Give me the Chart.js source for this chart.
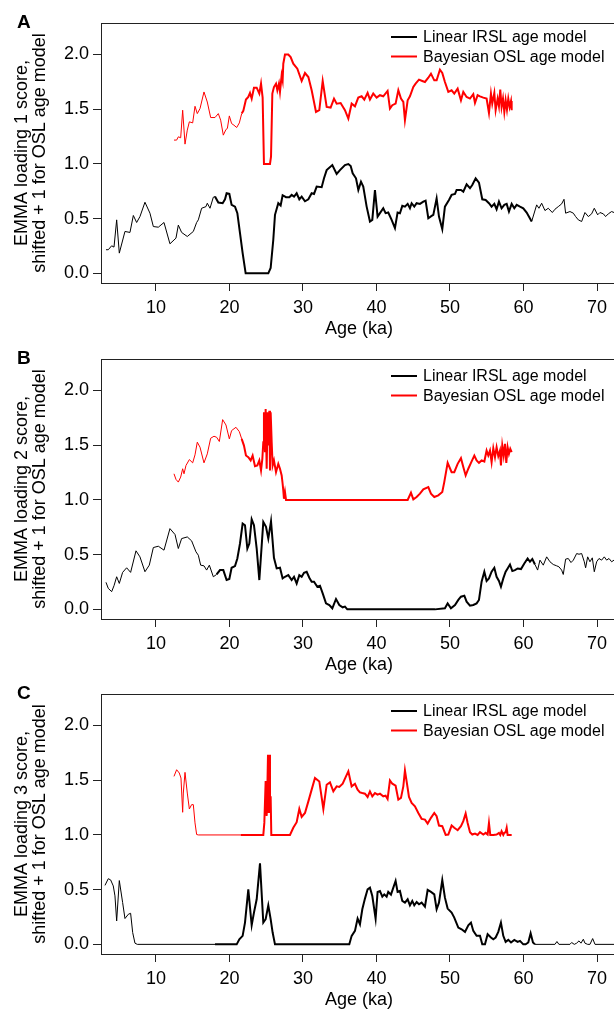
<!DOCTYPE html>
<html>
<head>
<meta charset="utf-8">
<script src="https://cdn.jsdelivr.net/npm/chart.js@4.4.1/dist/chart.umd.min.js"></script>
<style>
  html, body { margin: 0; padding: 0; background: #fff; }
  #wrap { position: relative; width: 614px; height: 1010px; overflow: hidden; }
  #wrap canvas { position: absolute; left: 0; }
</style>
</head>
<body>
<div id="wrap">
  <canvas id="panelA" width="630" height="340" style="top:0px"></canvas>
  <canvas id="panelB" width="630" height="340" style="top:336px"></canvas>
  <canvas id="panelC" width="630" height="340" style="top:671px"></canvas>
</div>
<script>
// Оси
const xTicks = [10, 20, 30, 40, 50, 60, 70];
const yTicks = [0, 0.5, 1, 1.5, 2];
const xRange = [2.52, 72.72];
const yRange = [-0.088, 2.288];
const seriesLabels = ['Linear IRSL age model', 'Bayesian OSL age model'];

// Панель A (loading 1)
const ageA_irsl = [3.20,3.51,3.97,4.29,4.65,5.01,5.78,6.46,6.92,7.37,
  7.82,8.50,9.18,9.64,10.32,11.09,11.90,12.72,13.04,13.49,
  14.26,15.08,15.53,15.76,16.21,16.80,16.98,17.35,17.80,18.03,
  18.48,19.07,19.39,19.61,19.98,20.29,20.75,21.07,21.43,21.79,
  22.20,25.28,25.60,25.96,26.19,26.64,26.96,27.23,27.69,28.14,
  28.46,28.78,29.14,29.50,29.82,30.27,30.73,31.18,31.50,31.86,
  32.54,32.86,33.22,33.99,34.58,35.03,35.71,36.17,36.49,36.76,
  37.21,37.53,37.89,38.20,38.66,39.11,39.43,39.79,40.15,40.47,
  40.92,41.24,41.60,42.06,42.51,42.87,43.19,43.51,43.87,44.24,
  44.55,44.78,45.14,45.46,45.91,46.37,46.68,47.05,47.50,47.73,
  48.18,48.50,48.95,49.31,49.86,50.22,50.68,50.90,51.49,51.81,
  52.26,52.72,53.03,53.49,53.94,54.39,54.85,55.30,55.66,56.03,
  56.34,56.66,57.02,57.39,57.71,58.02,58.39,58.75,59.07,59.52,
  59.97,60.43,61.11,61.79,62.10,62.47,62.92,63.37,63.92,64.28,
  64.73,65.19,65.51,65.73,66.32,66.78,67.09,67.46,67.91,68.36,
  68.82,69.27,69.63,70.09,70.40,70.86,71.17,71.54,71.99,72.31];
const scoreA_irsl = [0.216,0.216,0.252,0.240,0.489,0.185,0.383,0.374,0.529,0.465,
  0.519,0.650,0.550,0.428,0.422,0.465,0.270,0.322,0.441,0.374,
  0.337,0.383,0.465,0.489,0.595,0.610,0.641,0.595,0.696,0.702,
  0.647,0.641,0.677,0.732,0.726,0.626,0.610,0.550,0.368,0.185,
  0,0,0.049,0.307,0.535,0.641,0.620,0.714,0.696,0.696,
  0.717,0.702,0.732,0.677,0.702,0.659,0.677,0.732,0.726,0.793,
  0.787,0.869,0.944,0.990,0.908,0.944,0.990,0.999,0.981,0.914,
  0.869,0.762,0.838,0.793,0.610,0.474,0.489,0.762,0.519,0.550,
  0.595,0.550,0.556,0.489,0.414,0.556,0.550,0.617,0.610,0.635,
  0.595,0.641,0.610,0.641,0.635,0.656,0.665,0.504,0.525,0.535,
  0.686,0.519,0.404,0.610,0.671,0.717,0.726,0.762,0.762,0.747,
  0.814,0.778,0.808,0.869,0.829,0.677,0.671,0.641,0.610,0.635,
  0.586,0.656,0.595,0.626,0.635,0.565,0.635,0.595,0.626,0.610,
  0.595,0.556,0.474,0.626,0.595,0.641,0.574,0.595,0.556,0.586,
  0.610,0.635,0.677,0.550,0.565,0.550,0.519,0.489,0.474,0.556,
  0.519,0.544,0.595,0.535,0.556,0.544,0.519,0.544,0.565,0.556];
const ageA_osl = [12.45,12.81,13.04,13.36,13.63,13.95,14.26,14.54,14.99,15.31,
  15.62,15.99,16.53,16.98,17.44,18.03,18.48,18.80,19.16,19.52,
  19.71,19.98,20.29,20.61,20.98,21.34,21.66,21.88,22.24,22.56,
  22.79,23.02,23.33,23.70,24.06,24.29,24.51,24.69,25.51,25.65,
  25.83,26.05,26.33,26.51,26.73,26.87,27.10,27.23,27.32,27.55,
  28.00,28.32,28.68,29.23,29.82,30.27,30.73,31.18,31.77,32.22,
  32.68,33.22,33.76,34.22,34.58,35.12,35.71,36.17,36.62,37.07,
  37.52,37.98,38.34,38.79,39.11,39.56,40.02,40.47,40.92,41.51,
  41.83,42.15,42.60,42.97,43.33,43.65,43.87,44.24,44.55,45.01,
  45.32,45.78,46.23,46.59,47.05,47.41,47.86,48.18,48.63,48.95,
  49.31,49.77,50.22,50.58,51.04,51.49,51.81,52.26,52.72,53.17,
  53.40,53.76,54.08,54.53,54.98,55.30,55.57,55.75,56.03,56.21,
  56.48,56.66,56.84,57.02,57.21,57.39,57.57,57.75,57.93,58.11,
  58.30,58.39];
const scoreA_osl = [1.218,1.218,1.248,1.239,1.491,1.181,1.309,1.385,1.375,1.527,
  1.460,1.506,1.658,1.566,1.424,1.424,1.460,1.400,1.263,1.315,
  1.324,1.439,1.369,1.354,1.333,1.375,1.460,1.485,1.588,1.612,
  1.649,1.597,1.697,1.697,1.643,1.734,1.606,1.0,1.0,1.066,
  1.643,1.703,1.734,1.673,1.734,1.658,1.810,1.764,1.916,2.0,
  2.0,1.976,1.916,1.870,1.758,1.831,1.794,1.673,1.475,1.491,
  1.758,1.521,1.515,1.597,1.551,1.557,1.491,1.415,1.551,1.527,
  1.606,1.618,1.588,1.649,1.588,1.643,1.606,1.628,1.618,1.667,
  1.506,1.537,1.551,1.673,1.597,1.567,1.400,1.582,1.618,1.703,
  1.734,1.770,1.758,1.749,1.788,1.825,1.764,1.764,1.861,1.831,
  1.749,1.658,1.673,1.643,1.688,1.582,1.658,1.612,1.597,1.637,
  1.558,1.628,1.618,1.606,1.597,1.466,1.643,1.551,1.649,1.491,
  1.597,1.527,1.679,1.521,1.597,1.475,1.582,1.497,1.597,1.521,
  1.576,1.491];

// Панель B (loading 2)
const ageB_irsl = [3.20,3.51,3.97,4.29,4.65,5.01,5.46,6.01,6.55,7.28,
  7.82,8.50,9.09,9.64,10.32,11.09,11.90,12.59,13.04,13.49,
  14.26,14.85,15.44,15.76,16.08,16.53,16.89,17.26,17.80,18.25,
  18.71,19.16,19.61,19.98,20.29,20.75,21.07,21.43,21.79,22.11,
  22.43,22.70,23.02,23.33,23.70,24.06,24.60,24.97,25.28,25.65,
  26.05,26.42,26.87,27.23,27.55,28.00,28.46,28.78,29.14,29.50,
  29.82,30.14,30.50,30.86,31.18,31.50,31.95,32.31,32.68,33.13,
  33.58,33.99,34.49,34.94,35.40,35.71,36.03,47.95,49.31,49.68,
  50.13,50.68,51.13,51.49,51.95,52.26,52.72,53.17,53.62,53.94,
  54.30,54.67,54.98,55.30,55.66,56.03,56.34,56.66,56.93,57.25,
  57.57,57.84,58.16,58.48,58.84,59.20,59.66,60.11,60.56,60.88,
  61.20,61.56,61.92,62.24,62.69,63.15,63.60,64.05,64.51,64.82,
  65.19,65.41,65.73,66.09,66.46,66.78,67.23,67.55,67.91,68.27,
  68.45,68.73,69.04,69.36,69.63,69.95,70.27,70.63,70.99,71.31,
  71.63,71.99,72.31];
const scoreB_irsl = [0.247,0.192,0.162,0.216,0.298,0.237,0.338,0.380,0.338,0.535,
  0.480,0.344,0.404,0.565,0.577,0.541,0.738,0.684,0.556,0.647,
  0.662,0.626,0.526,0.495,0.404,0.398,0.359,0.404,0.298,0.319,
  0.359,0.359,0.268,0.277,0.380,0.395,0.465,0.602,0.784,0.769,
  0.556,0.602,0.823,0.769,0.556,0.268,0.799,0.754,0.647,0.805,
  0.471,0.374,0.380,0.283,0.298,0.313,0.268,0.298,0.237,0.313,
  0.298,0.335,0.344,0.289,0.253,0.253,0.207,0.216,0.146,0.055,
  0.040,0.010,0.095,0.040,0.019,0.025,0,0,0.010,0.055,
  0.010,0.040,0.086,0.116,0.125,0.070,0.034,0.040,0.055,0.086,
  0.253,0.344,0.259,0.283,0.344,0.380,0.298,0.259,0.207,0.283,
  0.344,0.374,0.410,0.350,0.359,0.374,0.368,0.420,0.465,0.435,
  0.459,0.410,0.359,0.450,0.404,0.480,0.435,0.410,0.398,0.389,
  0.359,0.319,0.459,0.465,0.428,0.450,0.510,0.504,0.510,0.435,
  0.380,0.480,0.435,0.471,0.344,0.435,0.465,0.450,0.480,0.450,
  0.465,0.435,0.450];
const ageB_osl = [12.45,12.72,13.04,13.36,13.63,13.81,14.08,14.54,14.99,15.31,
  15.62,15.99,16.53,16.98,17.44,17.89,18.25,18.62,19.07,19.52,
  19.98,20.29,20.88,21.34,21.66,21.97,22.24,22.56,22.88,23.15,
  23.47,23.79,24.06,24.29,24.47,24.60,24.69,24.83,24.92,25.06,
  25.19,25.33,25.42,25.51,25.60,25.74,25.87,26.05,26.33,26.64,
  26.87,27.10,27.23,27.32,27.41,27.55,27.69,44.24,44.69,45.01,
  45.46,45.91,46.37,47.05,47.41,47.86,48.41,48.95,49.22,49.68,
  50.22,50.58,51.04,51.49,51.81,52.13,52.49,52.85,53.31,53.62,
  53.94,54.30,54.67,54.98,55.21,55.44,55.66,55.89,56.12,56.34,
  56.57,56.80,56.93,57.11,57.30,57.48,57.66,57.84,58.02,58.20,
  58.39];
const scoreB_osl = [1.239,1.188,1.163,1.209,1.285,1.239,1.315,1.369,1.339,1.412,
  1.528,1.482,1.339,1.421,1.564,1.582,1.573,1.534,1.734,1.685,
  1.558,1.634,1.664,1.624,1.558,1.497,1.406,1.391,1.361,1.406,
  1.309,1.315,1.361,1.270,1.376,1.528,1.801,1.436,1.832,1.285,
  1.801,1.497,1.816,1.270,1.801,1.528,1.315,1.361,1.254,1.330,
  1.285,1.224,1.148,1.087,1.011,1.072,1.0,1.0,1.066,1.005,
  1.027,1.057,1.097,1.118,1.057,1.027,1.042,1.072,1.163,1.339,
  1.254,1.254,1.330,1.382,1.300,1.224,1.285,1.339,1.406,1.361,
  1.339,1.361,1.351,1.451,1.406,1.451,1.345,1.473,1.391,1.482,
  1.400,1.451,1.315,1.497,1.406,1.512,1.339,1.482,1.421,1.467,
  1.436];

// Панель C (loading 3)
const ageC_irsl = [3.06,3.51,3.83,4.19,4.42,4.65,5.01,5.46,5.78,6.24,
  6.55,6.83,7.14,7.46,18.03,20.98,21.34,21.79,22.11,22.56,
  23.02,23.33,23.70,24.15,24.60,24.92,25.28,25.60,25.87,26.19,
  36.30,36.62,37.07,37.43,37.75,38.07,38.43,38.79,39.11,39.43,
  39.88,40.15,40.47,40.79,41.06,41.38,41.60,41.97,42.29,42.60,
  42.87,43.19,43.51,43.87,44.24,44.55,44.87,45.14,45.46,45.78,
  46.14,46.59,46.96,47.41,47.86,48.18,48.50,48.95,49.31,49.68,
  50.22,50.58,51.13,51.58,52.04,52.49,52.85,53.17,53.62,54.08,
  54.39,54.76,55.12,55.57,55.89,56.21,56.57,56.93,57.25,57.57,
  57.93,58.30,58.75,59.20,59.52,59.97,60.29,60.65,60.97,61.29,
  61.56,64.28,64.55,64.82,66.32,66.55,66.91,67.23,67.55,67.82,
  68.14,68.36,68.73,69.04,69.41,69.73,72.31];
const scoreC_irsl = [0.539,0.600,0.589,0.534,0.443,0.214,0.583,0.383,0.236,0.275,
  0.284,0.108,0.011,0,0,0,0.047,0.078,0.199,0.503,
  0.175,0.290,0.412,0.740,0.199,0.230,0.357,0.230,0.108,0,
  0,0.078,0.123,0.236,0.184,0.321,0.418,0.503,0.518,0.442,
  0.236,0.479,0.488,0.436,0.457,0.436,0.479,0.454,0.518,0.579,
  0.479,0.488,0.397,0.381,0.412,0.357,0.397,0.357,0.387,0.366,
  0.381,0.345,0.497,0.479,0.457,0.321,0.381,0.588,0.427,0.327,
  0.290,0.245,0.154,0.138,0.114,0.175,0.199,0.123,0.078,0.078,
  0,0,0.093,0.063,0.047,0.063,0.114,0.199,0.078,0.023,
  0.041,0.017,0.041,0.023,0.032,0,0,0.017,0.102,0.017,
  0,0,0.026,0,0,0.017,0,0.011,0.032,0.011,
  0.047,0.011,0,0,0.053,0,0];
const ageC_osl = [12.45,12.81,13.17,13.40,13.63,13.72,13.95,14.26,14.54,14.85,
  15.08,15.31,15.53,15.76,21.52,24.60,24.74,24.92,25.06,25.15,
  25.24,25.33,25.42,25.51,25.60,25.69,28.23,28.68,29.14,29.50,
  29.82,30.27,30.73,31.18,31.63,32.22,32.77,33.22,33.67,34.13,
  34.58,34.94,35.40,35.85,36.17,36.62,37.07,37.43,37.75,38.07,
  38.43,38.79,39.11,39.43,39.79,40.15,40.47,40.92,41.24,41.51,
  41.83,42.15,42.60,42.97,43.33,43.65,43.87,44.10,44.42,44.78,
  45.23,45.69,46.14,46.59,46.96,47.41,47.86,48.18,48.50,48.95,
  49.41,49.77,50.22,50.58,51.04,51.49,51.81,52.13,52.40,52.72,
  53.03,53.40,53.76,54.08,54.53,54.85,55.12,55.30,55.48,55.89,
  56.34,56.66,56.84,57.02,57.25,57.39,57.57,57.71,57.84,58.39];
const scoreC_osl = [1.535,1.596,1.566,1.520,1.207,1.383,1.572,1.383,1.237,1.277,
  1.277,1.110,1.004,1.0,1.0,1.0,1.110,1.493,1.174,1.414,
  1.732,1.201,1.732,1.201,1.353,1.0,1.0,1.065,1.116,1.237,
  1.165,1.201,1.307,1.414,1.520,1.489,1.237,1.459,1.480,1.398,
  1.444,1.438,1.468,1.535,1.581,1.444,1.468,1.414,1.389,1.383,
  1.377,1.347,1.398,1.353,1.383,1.368,1.377,1.353,1.359,1.329,
  1.498,1.468,1.450,1.322,1.338,1.444,1.590,1.489,1.347,1.292,
  1.262,1.201,1.147,1.140,1.104,1.156,1.201,1.171,1.086,1.080,
  1.0,1.004,1.086,1.065,1.043,1.080,1.126,1.196,1.110,1.025,
  1.004,1.013,1.0,1.025,1.004,1.019,1.004,1.110,1.0,1.0,
  1.004,1.019,1.0,1.034,1.0,1.019,1.025,1.065,1.0,1.0];

const FONT = '"Liberation Sans", Arial, Helvetica, sans-serif';
Chart.defaults.font.family = FONT;

// Собираем точки из двух массивов
function toPoints(ages, scores) {
  return ages.map((a, i) => ({ x: a, y: scores[i] }));
}

// Толстая линия внутри диапазона, тонкая снаружи
function segWidth(lo, hi) {
  return ctx => (ctx.p0.parsed.x >= lo && ctx.p1.parsed.x <= hi) ? 2 : 1;
}

// Рамка, буква панели и легенда
const panelDecor = {
  id: 'panelDecor',
  afterDraw(chart, args, opts) {
    const { ctx, chartArea: a } = chart;
    ctx.save();
    ctx.strokeStyle = '#222';
    ctx.lineWidth = 1;
    ctx.strokeRect(Math.round(a.left) + 0.5, Math.round(a.top) + 0.5,
      Math.round(a.right - a.left), Math.round(a.bottom - a.top));

    ctx.fillStyle = '#000';
    ctx.textBaseline = 'middle';
    ctx.font = 'bold 19px ' + FONT;
    ctx.fillText(opts.letter, 17, 23);

    ctx.font = '16px ' + FONT;
    chart.data.datasets.forEach((ds, i) => {
      const y = opts.legendTop + i * 19.5;
      ctx.strokeStyle = ds.borderColor;
      ctx.lineWidth = 2;
      ctx.beginPath();
      ctx.moveTo(391, y);
      ctx.lineTo(417, y);
      ctx.stroke();
      ctx.fillText(ds.label, 423, y + 1);
    });
    ctx.restore();
  }
};

function makePanel(id, letter, loading, irslAge, irslScore, oslAge, oslScore, legendTop) {
  const ctx = document.getElementById(id).getContext('2d');
  return new Chart(ctx, {
    type: 'line',
    data: {
      datasets: [{
        label: seriesLabels[0],
        data: toPoints(irslAge, irslScore),
        borderColor: '#000000',
        borderWidth: 1,
        pointRadius: 0,
        tension: 0,
        segment: { borderWidth: segWidth(18, 61.6) }
      }, {
        label: seriesLabels[1],
        data: toPoints(oslAge, oslScore),
        borderColor: '#ff0000',
        borderWidth: 1,
        pointRadius: 0,
        tension: 0,
        segment: { borderWidth: segWidth(21.4, 99) }
      }]
    },
    options: {
      responsive: false,
      animation: false,
      layout: { padding: { left: 0, top: 23, right: 13, bottom: 0 } },
      plugins: {
        legend: { display: false },
        tooltip: { enabled: false },
        panelDecor: { letter: letter, legendTop: legendTop }
      },
      scales: {
        x: {
          type: 'linear',
          min: xRange[0],
          max: xRange[1],
          border: { display: false },
          grid: { drawOnChartArea: false, drawTicks: true, tickLength: 8, color: '#222' },
          ticks: { color: '#000', font: { size: 18 }, padding: 6, maxRotation: 0, autoSkip: false },
          title: { display: true, text: 'Age (ka)', color: '#000', font: { size: 18, lineHeight: 1.2 }, padding: 0 },
          afterBuildTicks: s => { s.ticks = xTicks.map(v => ({ value: v })); },
          afterFit: s => { s.height = 57; }
        },
        y: {
          type: 'linear',
          min: yRange[0],
          max: yRange[1],
          border: { display: false },
          grid: { drawOnChartArea: false, drawTicks: true, tickLength: 8, color: '#222' },
          ticks: { color: '#000', font: { size: 18 }, padding: 4, callback: v => v.toFixed(1) },
          title: {
            display: true,
            text: ['EMMA loading ' + loading + ' score,', 'shifted + 1 for OSL age model'],
            color: '#000',
            font: { size: 18, lineHeight: 1.0 },
            padding: { top: 13, bottom: 0 }
          },
          afterBuildTicks: s => { s.ticks = yTicks.map(v => ({ value: v })); },
          afterFit: s => { s.width = 101; }
        }
      }
    },
    plugins: [panelDecor]
  });
}

makePanel('panelA', 'A', 1, ageA_irsl, scoreA_irsl, ageA_osl, scoreA_osl, 37);
makePanel('panelB', 'B', 2, ageB_irsl, scoreB_irsl, ageB_osl, scoreB_osl, 40);
makePanel('panelC', 'C', 3, ageC_irsl, scoreC_irsl, ageC_osl, scoreC_osl, 40);
</script>
</body>
</html>
